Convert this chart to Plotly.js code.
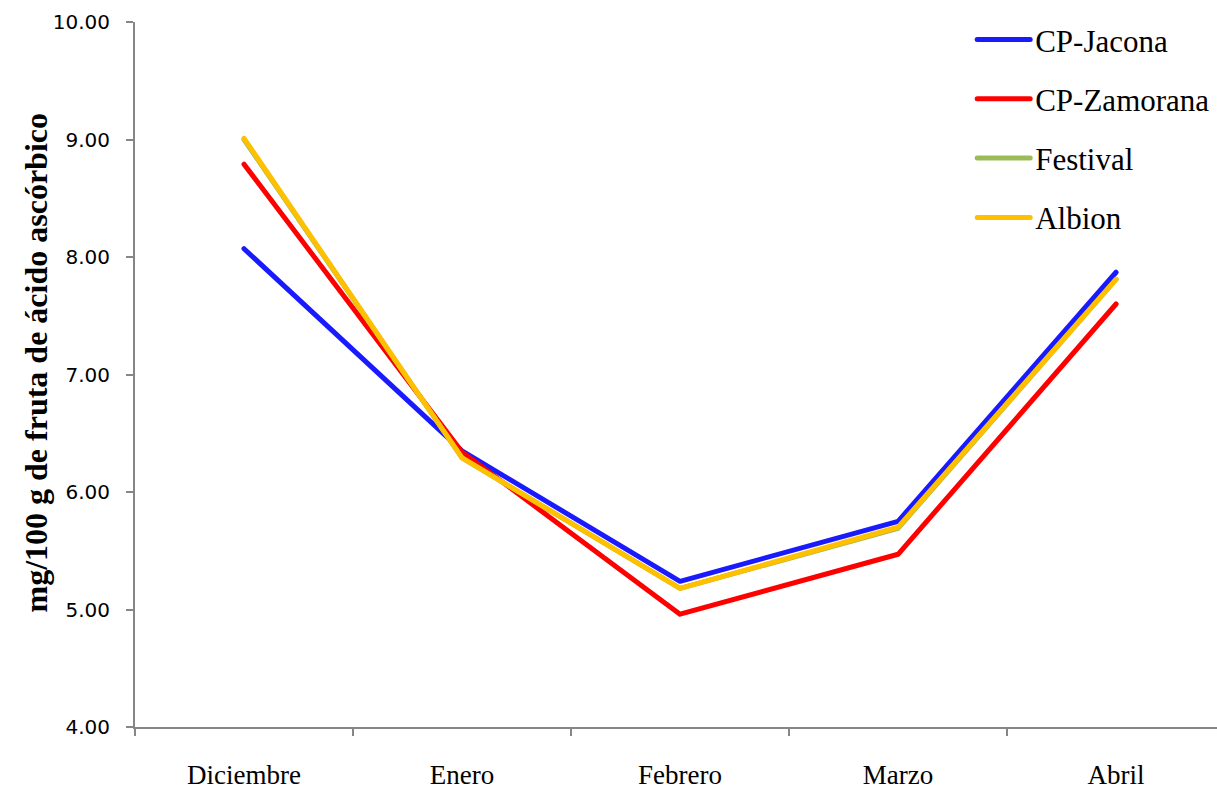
<!DOCTYPE html>
<html>
<head>
<meta charset="utf-8">
<script src="https://cdn.plot.ly/plotly-3.0.1.min.js"></script>
<style>
  html, body { margin: 0; padding: 0; background: #fff; }
  #chart { width: 1217px; height: 793px; }
  .scatterlayer path.js-line { stroke-linecap: round; stroke-linejoin: round; }
</style>
</head>
<body>
<div id="chart"></div>
<script>
// Months sampled
const months = ["Diciembre", "Enero", "Febrero", "Marzo", "Abril"];

// Ascorbic acid content (mg/100 g fruit) per cultivar
const cpJacona   = [8.07, 6.35, 5.24, 5.75, 7.87];
const cpZamorana = [8.79, 6.34, 4.96, 5.47, 7.60];
const festival   = [9.00, 6.29, 5.18, 5.69, 7.81];
const albion     = [9.01, 6.29, 5.18, 5.70, 7.81];

const yTicks = [4, 5, 6, 7, 8, 9, 10];
const yTickText = ["4.00", "5.00", "6.00", "7.00", "8.00", "9.00", "10.00"];
const yTitle = "mg/100 g de fruta de ácido ascórbico";

const series = [
  { name: "CP-Jacona",   y: cpJacona,   color: "#1a1aff" },
  { name: "CP-Zamorana", y: cpZamorana, color: "#ff0000" },
  { name: "Festival",    y: festival,   color: "#9bbb59" },
  { name: "Albion",      y: albion,     color: "#ffc000" }
];

const traces = series.map((s, i) => ({
  type: "scatter",
  mode: "lines",
  x: months,
  y: s.y,
  name: s.name,
  legendgroup: "g" + i,
  line: { color: s.color, width: 5 }
}));

const axisColor = "#868686";
const serif = "Liberation Serif";

const layout = {
  width: 1217,
  height: 793,
  paper_bgcolor: "#ffffff",
  plot_bgcolor: "#ffffff",
  margin: { l: 135, r: 0, t: 22, b: 66 },
  showlegend: true,
  legend: {
    x: 0.795, y: 1.013, xanchor: "left", yanchor: "top",
    font: { family: serif, size: 31, color: "#000" },
    tracegroupgap: 16,
    bgcolor: "rgba(0,0,0,0)"
  },
  xaxis: {
    type: "category",
    range: [-0.5, 4.463],
    showline: true, linecolor: axisColor, linewidth: 2,
    ticks: "outside", tickson: "boundaries", ticklen: 7, tickcolor: axisColor, tickwidth: 2,
    showgrid: false, zeroline: false,
    tickfont: { family: serif, size: 27, color: "#000" },
    ticklabelstandoff: 23
  },
  yaxis: {
    range: [4, 10],
    tickvals: yTicks, ticktext: yTickText,
    showline: true, linecolor: axisColor, linewidth: 2,
    ticks: "outside", ticklen: 7, tickcolor: axisColor, tickwidth: 2,
    showgrid: false, zeroline: false,
    tickfont: { family: "DejaVu Sans", size: 20, color: "#000" },
    ticklabelstandoff: 12
  },
  annotations: [{
    text: "<b>" + yTitle + "</b>",
    xref: "paper", yref: "paper",
    x: 0, y: 0.5, xanchor: "center", yanchor: "middle",
    xshift: -100, yshift: 12,
    textangle: -90, showarrow: false,
    font: { family: serif, size: 32, color: "#000" }
  }]
};

// stretch the legend swatches to a longer stroke
function widenSwatches(gd) {
  gd.querySelectorAll(".legend [clip-path]").forEach(e => e.removeAttribute("clip-path"));
  gd.querySelectorAll(".legend .legendlines path").forEach(p => {
    p.setAttribute("d", "M-18,0h53");
    p.style.strokeLinecap = "round";
  });
}

const gd = document.getElementById("chart");
Plotly.newPlot(gd, traces, layout, { displayModeBar: false, staticPlot: true }).then(() => {
  widenSwatches(gd);
});
</script>
</body>
</html>
